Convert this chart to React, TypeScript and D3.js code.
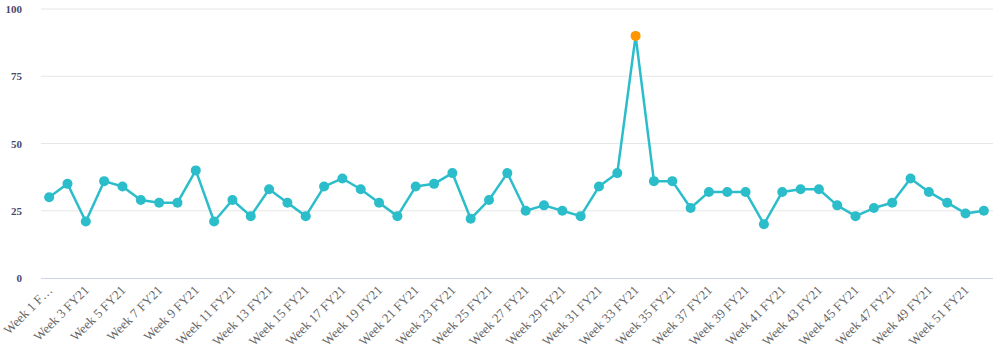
import { useEffect, useRef } from "react";
import * as d3 from "d3";

const weeks: string[] = Array.from({ length: 52 }, (_, i) => `Week ${i + 1} FY21`);

const values: number[] = [
  30, 35, 21, 36, 34, 29, 28, 28, 40, 21,
  29, 23, 33, 28, 23, 34, 37, 33, 28, 23,
  34, 35, 39, 22, 29, 39, 25, 27, 25, 23,
  34, 39, 90, 36, 36, 26, 32, 32, 32, 20,
  32, 33, 33, 27, 23, 26, 28, 37, 32, 28,
  24, 25,
];

const yTicks: number[] = [0, 25, 50, 75, 100];

const highlightWeek = "Week 33 FY21";

export default function App() {
  const svgRef = useRef<SVGSVGElement | null>(null);

  useEffect(() => {
    if (!svgRef.current) return;

    const W = 998;
    const H = 358;
    const margin = { top: 9, right: 5, bottom: 80, left: 40 };

    const svg = d3.select(svgRef.current);
    svg.selectAll("*").remove();
    svg.attr("width", W).attr("height", H);

    const x = d3
      .scaleBand<string>()
      .domain(weeks)
      .range([margin.left, W - margin.right]);

    const y = d3
      .scaleLinear()
      .domain([0, 100])
      .range([H - margin.bottom, margin.top]);

    const cx = (w: string) => (x(w) || 0) + x.bandwidth() / 2;

    // grid
    svg
      .append("g")
      .selectAll("line")
      .data(yTicks.filter((t) => t > 0))
      .enter()
      .append("line")
      .attr("x1", margin.left + 1)
      .attr("x2", W - margin.right)
      .attr("y1", (d) => y(d))
      .attr("y2", (d) => y(d))
      .attr("stroke", "#e6e6e6")
      .attr("stroke-width", 1);

    // y labels
    svg
      .append("g")
      .selectAll("text")
      .data(yTicks)
      .enter()
      .append("text")
      .attr("x", 22)
      .attr("y", (d) => y(d) + 4)
      .attr("text-anchor", "end")
      .attr("font-family", "'Liberation Serif', 'Times New Roman', serif")
      .attr("font-weight", "bold")
      .attr("font-size", 11)
      .attr("fill", "#4a4a6a")
      .text((d) => d);

    // baseline
    svg
      .append("line")
      .attr("x1", margin.left + 1)
      .attr("x2", W - margin.right)
      .attr("y1", y(0) + 0.5)
      .attr("y2", y(0) + 0.5)
      .attr("stroke", "#ccd6eb")
      .attr("stroke-width", 1);

    // x labels (every other week)
    svg
      .append("g")
      .selectAll("text")
      .data(weeks.filter((_, i) => i % 2 === 0))
      .enter()
      .append("text")
      .attr("transform", (d) => `translate(${cx(d) + 4},${y(0) + 13}) rotate(-45)`)
      .attr("text-anchor", "end")
      .attr("font-family", "'Liberation Serif', 'Times New Roman', serif")
      .attr("font-size", 13)
      .attr("fill", "#666666")
      .text((d, i) => (i === 0 ? "Week 1 F…" : d));

    // line
    const line = d3
      .line<number>()
      .x((_, i) => cx(weeks[i]))
      .y((d) => y(d));

    svg
      .append("path")
      .datum(values)
      .attr("fill", "none")
      .attr("stroke", "#2bbdca")
      .attr("stroke-width", 2.5)
      .attr("stroke-linejoin", "round")
      .attr("d", line);

    svg
      .append("g")
      .selectAll("circle")
      .data(values)
      .enter()
      .append("circle")
      .attr("cx", (_, i) => cx(weeks[i]))
      .attr("cy", (d) => y(d))
      .attr("r", 5)
      .attr("fill", (_, i) => (weeks[i] === highlightWeek ? "#ff9500" : "#2bbdca"));
  }, []);

  return <svg ref={svgRef} style={{ position: "absolute", left: 0, top: 0 }} />;
}
